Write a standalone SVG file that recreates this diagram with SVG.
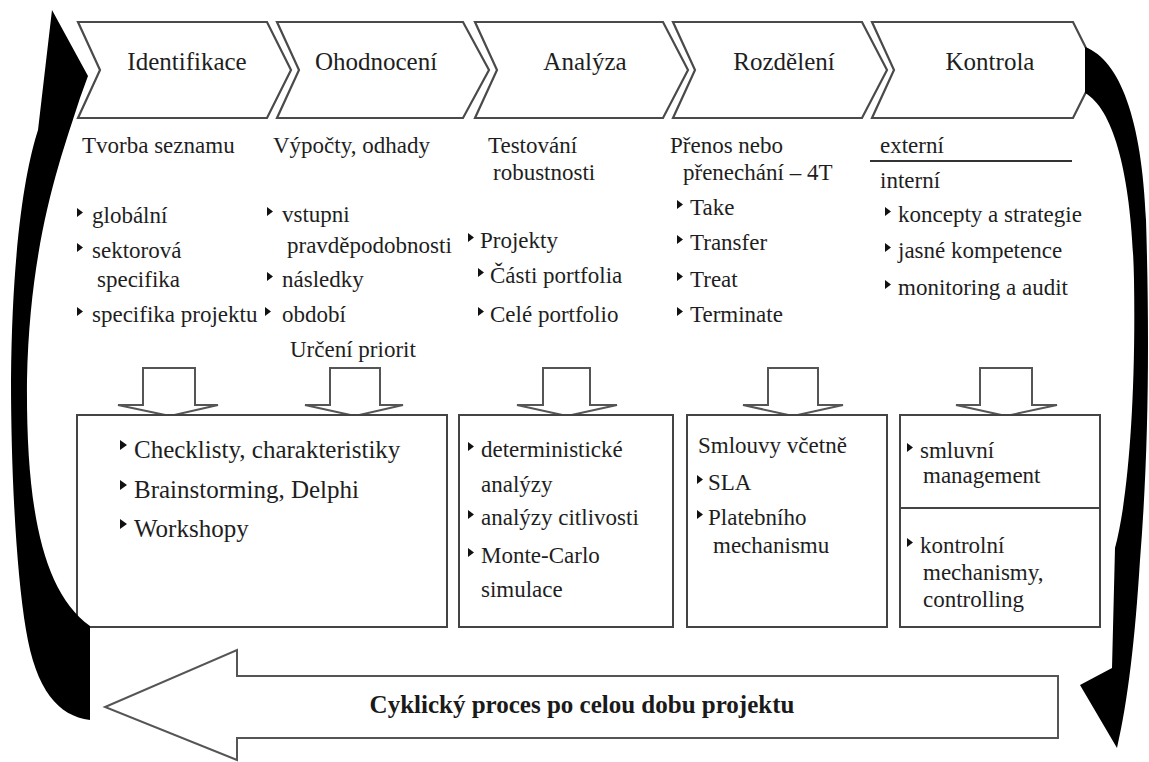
<svg xmlns="http://www.w3.org/2000/svg" width="1149" height="762" viewBox="0 0 1149 762">
<style>
.chev{fill:#fff;stroke:#4a4a4a;stroke-width:2.2}
.box{fill:#fff;stroke:#444;stroke-width:2}
.barrow{fill:#fff;stroke:#555;stroke-width:2}
.lbl{font-family:"Liberation Serif","Times New Roman",serif;font-size:25px;fill:#1e1e1e;text-anchor:middle}
.t{font-family:"Liberation Serif","Times New Roman",serif;font-size:23px;fill:#1e1e1e}
.t25{font-family:"Liberation Serif","Times New Roman",serif;font-size:25px;fill:#1e1e1e}
.bold{font-family:"Liberation Serif","Times New Roman",serif;font-size:25px;font-weight:bold;fill:#1a1a1a;text-anchor:middle}
.blk{fill:#000}
</style>
<defs>
<path id="b" d="M0,0 L6,4.5 L0,9 Z" fill="#111"/>
<path id="bb" d="M0,0 L7,5 L0,10 Z" fill="#111"/>
</defs>
<rect width="1149" height="762" fill="#fff"/>

<g id="step-identifikace">
<polygon class="chev" points="78,22 267,22 291,70 267,118 78,118 100,70"/>
<text class="lbl" x="187" y="70">Identifikace</text>
</g>
<g id="step-ohodnoceni">
<polygon class="chev" points="277,22 463,22 489,70 463,118 277,118 299,70"/>
<text class="lbl" x="376" y="70">Ohodnocení</text>
</g>
<g id="step-analyza">
<polygon class="chev" points="475,22 663,22 688,70 663,118 475,118 497,70"/>
<text class="lbl" x="585" y="70">Analýza</text>
</g>
<g id="step-rozdeleni">
<polygon class="chev" points="673,22 862,22 887,70 862,118 673,118 695,70"/>
<text class="lbl" x="784" y="70">Rozdělení</text>
</g>
<g id="step-kontrola">
<polygon class="chev" points="872,22 1073,22 1097,70 1073,118 872,118 894,70"/>
<text class="lbl" x="990" y="70">Kontrola</text>
</g>

<g id="col-identifikace">
<text class="t" x="82" y="153">Tvorba seznamu</text>
<use href="#b" x="77" y="208"/><text class="t" x="92" y="223">globální</text>
<use href="#b" x="77" y="243"/><text class="t" x="92" y="258">sektorová</text>
<text class="t" x="97" y="287">specifika</text>
<use href="#b" x="77" y="307"/><text class="t" x="92" y="322">specifika projektu</text>
</g>
<g id="col-ohodnoceni">
<text class="t" x="273" y="153">Výpočty, odhady</text>
<use href="#b" x="267" y="207"/><text class="t" x="282" y="222">vstupni</text>
<text class="t" x="287" y="253">pravděpodobnosti</text>
<use href="#b" x="267" y="272"/><text class="t" x="282" y="287">následky</text>
<use href="#b" x="265" y="307"/><text class="t" x="282" y="322">období</text>
<text class="t" x="290" y="357">Určení priorit</text>
</g>
<g id="col-analyza">
<text class="t" x="488" y="153">Testování</text>
<text class="t" x="493" y="180">robustnosti</text>
<use href="#b" x="468" y="233"/><text class="t" x="480" y="248">Projekty</text>
<use href="#b" x="478" y="268"/><text class="t" x="490" y="283">Části portfolia</text>
<use href="#b" x="478" y="307"/><text class="t" x="490" y="322">Celé portfolio</text>
</g>
<g id="col-rozdeleni">
<text class="t" x="670" y="153">Přenos nebo</text>
<text class="t" x="683" y="180">přenechání – 4T</text>
<use href="#b" x="677" y="200"/><text class="t" x="690" y="215">Take</text>
<use href="#b" x="677" y="235"/><text class="t" x="690" y="250">Transfer</text>
<use href="#b" x="677" y="272"/><text class="t" x="690" y="287">Treat</text>
<use href="#b" x="677" y="307"/><text class="t" x="690" y="322">Terminate</text>
</g>
<g id="col-kontrola">
<text class="t" x="880" y="153">externí</text>
<line x1="870" y1="161" x2="1072" y2="161" stroke="#333" stroke-width="2"/>
<text class="t" x="880" y="188">interní</text>
<use href="#b" x="885" y="207"/><text class="t" x="898" y="222">koncepty a strategie</text>
<use href="#b" x="885" y="243"/><text class="t" x="898" y="258">jasné kompetence</text>
<use href="#b" x="885" y="280"/><text class="t" x="898" y="295">monitoring a audit</text>
</g>

<g id="down-arrows">
<polygon class="barrow" points="143,368 195,368 195,405 218,405 170,416 118,405 143,405"/>
<polygon class="barrow" points="330,368 380,368 380,405 403,405 355,416 305,405 330,405"/>
<polygon class="barrow" points="543,368 590,368 590,405 617,405 567,416 517,405 543,405"/>
<polygon class="barrow" points="768,368 818,368 818,405 843,405 793,416 743,405 768,405"/>
<polygon class="barrow" points="980,368 1032,368 1032,405 1057,405 1006,416 956,405 980,405"/>
</g>

<g id="box-methods">
<rect class="box" x="77" y="415" width="370" height="212"/>
<use href="#bb" x="120" y="440"/><text class="t25" x="134" y="458">Checklisty, charakteristiky</text>
<use href="#bb" x="120" y="480"/><text class="t25" x="134" y="498">Brainstorming, Delphi</text>
<use href="#bb" x="120" y="519"/><text class="t25" x="134" y="537">Workshopy</text>
</g>
<g id="box-analyzy">
<rect class="box" x="459" y="415" width="214" height="212"/>
<use href="#b" x="468" y="442"/><text class="t" x="481" y="457">deterministické</text>
<text class="t" x="481" y="492">analýzy</text>
<use href="#b" x="468" y="510"/><text class="t" x="481" y="525">analýzy citlivosti</text>
<use href="#b" x="468" y="548"/><text class="t" x="481" y="563">Monte-Carlo</text>
<text class="t" x="481" y="597">simulace</text>
</g>
<g id="box-smlouvy">
<rect class="box" x="687" y="415" width="200" height="212"/>
<text class="t" x="698" y="453">Smlouvy včetně</text>
<use href="#b" x="697" y="475"/><text class="t" x="708" y="490">SLA</text>
<use href="#b" x="697" y="510"/><text class="t" x="708" y="525">Platebního</text>
<text class="t" x="713" y="553">mechanismu</text>
</g>
<g id="box-kontrola">
<rect class="box" x="900" y="415" width="200" height="212"/>
<line x1="900" y1="508" x2="1100" y2="508" stroke="#444" stroke-width="2"/>
<use href="#b" x="907" y="443"/><text class="t" x="920" y="458">smluvní</text>
<text class="t" x="923" y="483">management</text>
<use href="#b" x="907" y="538"/><text class="t" x="920" y="553">kontrolní</text>
<text class="t" x="923" y="580">mechanismy,</text>
<text class="t" x="923" y="607">controlling</text>
</g>

<g id="cycle-arrow">
<polygon class="barrow" points="1058,676 237,676 237,650 105,707 237,760 237,738 1058,738"/>
<text class="bold" x="582" y="713">Cyklický proces po celou dobu projektu</text>
</g>

<g id="connectors">
<path class="blk" d="M52,10 L88,76 L80,98 C60,160 30,240 27,380 C26,500 40,590 90,626 L90,720 C58,716 36,690 26,630 C16,570 11,470 11,380 C12,250 25,170 38,130 Z"/>
<path class="blk" d="M1085,47 C1120,60 1142,120 1146,220 C1150,350 1148,460 1140,560 C1135,640 1128,700 1117,748 L1080,685 L1112,668 L1115,548 C1128,500 1136,400 1134,280 C1132,180 1115,110 1085,93 Z"/>
</g>
</svg>
